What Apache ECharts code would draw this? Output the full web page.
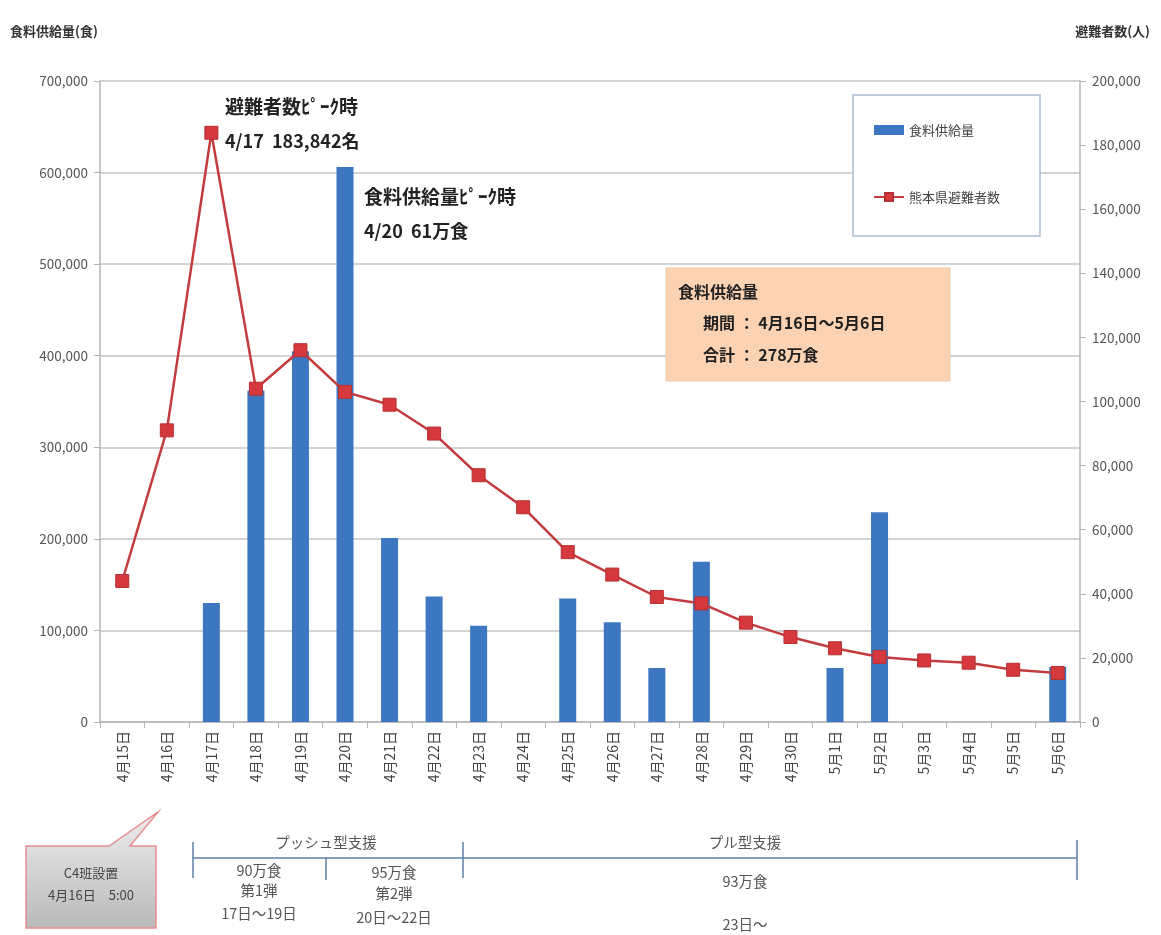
<!DOCTYPE html>
<html><head><meta charset="utf-8">
<script src="https://cdn.jsdelivr.net/npm/echarts@6/dist/echarts.min.js"></script>
<style>html,body{margin:0;padding:0;background:#fff}#c{width:1161px;height:935px}</style>
</head><body><div id="c"></div>
<script>
const categories = ['4月15日','4月16日','4月17日','4月18日','4月19日','4月20日','4月21日','4月22日','4月23日','4月24日','4月25日','4月26日','4月27日','4月28日','4月29日','4月30日','5月1日','5月2日','5月3日','5月4日','5月5日','5月6日'];
const foodSupply = [0,0,130000,362000,405000,606000,201000,137000,105000,0,135000,109000,59000,175000,0,0,59000,229000,0,0,0,60000];
const evacuees = [44000,91000,183842,104000,116000,103000,99000,90000,77000,67000,53000,46000,39000,37000,31000,26500,23000,20300,19200,18500,16300,15300];
const leftTickValues = [0,100000,200000,300000,400000,500000,600000,700000];
const rightTickValues = [0,20000,40000,60000,80000,100000,120000,140000,160000,180000,200000];
const seriesNames = ['食料供給量','熊本県避難者数'];

const FONT = '"Noto Sans CJK JP", "Noto Sans", sans-serif';
const fmt = v => Number(v).toLocaleString('en-US');
const chart = echarts.init(document.getElementById('c'));

function txt(x, y, text, opt) {
  opt = opt || {};
  return {type:'text', z: 100, style:{x, y, text, fill: opt.fill || '#222', fontSize: opt.size || 13,
    fontWeight: opt.weight || 'normal', fontFamily: FONT, textAlign: opt.align || 'left', textVerticalAlign:'middle'}};
}

chart.setOption({
  animation: false,
  backgroundColor: '#fff',
  textStyle: {fontFamily: FONT},
  grid: {left: 100, right: 81, top: 81, bottom: 213, containLabel: false},
  legend: {
    orient: 'vertical', left: 853, top: 95,
    padding: [27, 40, 31, 20], itemGap: 51,
    itemWidth: 30, itemHeight: 10,
    backgroundColor: '#fff', borderColor: '#a9bccf', borderWidth: 1.5,
    textStyle: {fontSize: 13, color: '#444', lineHeight: 16, fontFamily: FONT},
    data: [{name: seriesNames[0], icon: 'rect'}, {name: seriesNames[1]}]
  },
  xAxis: {
    type: 'category', data: categories, boundaryGap: true,
    axisLine: {lineStyle: {color: '#b5b5b5', width: 1.5}},
    axisTick: {show: true, alignWithLabel: false, length: 6, lineStyle: {color: '#b5b5b5'}},
    axisLabel: {rotate: 90, fontSize: 14, color: '#444', margin: 9, fontFamily: FONT}
  },
  yAxis: [{
    type: 'value', min: leftTickValues[0], max: leftTickValues[leftTickValues.length-1], interval: 100000,
    position: 'left',
    axisLine: {show: true, lineStyle: {color: '#b5b5b5', width: 1.5}},
    axisTick: {show: true, length: 6, lineStyle: {color: '#b5b5b5'}},
    axisLabel: {formatter: fmt, fontSize: 13.5, color: '#555', margin: 12, fontFamily: FONT},
    splitLine: {show: true, lineStyle: {color: '#c4c4c4', width: 1.5}}
  }, {
    type: 'value', min: rightTickValues[0], max: rightTickValues[rightTickValues.length-1], interval: 20000,
    position: 'right',
    axisLine: {show: true, lineStyle: {color: '#b5b5b5', width: 1.5}},
    axisTick: {show: true, length: 6, lineStyle: {color: '#b5b5b5'}},
    axisLabel: {formatter: fmt, fontSize: 13.5, color: '#555', margin: 12, fontFamily: FONT},
    splitLine: {show: false}
  }],
  series: [{
    name: seriesNames[0], type: 'bar', data: foodSupply, barWidth: 17, yAxisIndex: 0,
    itemStyle: {color: '#3d77c1'}, z: 2
  }, {
    name: seriesNames[1], type: 'line', data: evacuees, yAxisIndex: 1,
    symbol: 'rect', symbolSize: 13,
    lineStyle: {color: '#c43b3e', width: 2.5},
    itemStyle: {color: '#d5383d', borderColor: '#b53033', borderWidth: 1},
    z: 5
  }],
  graphic: [
    txt(10, 31, '食料供給量(食)', {weight:'bold', size: 13, fill:'#333'}),
    txt(1150, 31, '避難者数(人)', {weight:'bold', size: 13, fill:'#333', align:'right'}),
    txt(225, 107, '避難者数ﾋﾟｰｸ時', {weight:'bold', size: 19}),
    txt(225, 141, '4/17  183,842名', {weight:'bold', size: 18}),
    txt(364, 197, '食料供給量ﾋﾟｰｸ時', {weight:'bold', size: 19}),
    txt(364, 231, '4/20  61万食', {weight:'bold', size: 18}),
    {type:'rect', z: 90, shape:{x:666, y:268, width:284, height:113}, style:{fill:'#fbd3b3', stroke:'#f3c8a6', lineWidth:1}},
    txt(678, 292, '食料供給量', {weight:'bold', size: 16}),
    txt(703, 323, '期間 ： 4月16日～5月6日', {weight:'bold', size: 16}),
    txt(703, 355, '合計 ： 278万食', {weight:'bold', size: 16}),
    // callout
    {type:'polygon', z: 90, shape:{points:[[26,846],[109,846],[158,812],[130,846],[156,846],[156,928],[26,928]]},
      style:{fill:{type:'linear', x:0, y:0, x2:0, y2:1, colorStops:[{offset:0,color:'#eeeeee'},{offset:1,color:'#b9b9b9'}]}, stroke:'#e58e90', lineWidth:1.5}},
    txt(91, 873, 'C4班設置', {size: 13, fill:'#444', align:'center'}),
    txt(91, 895, '4月16日　5:00', {size: 13, fill:'#444', align:'center'}),
    // timeline
    {type:'line', z: 90, shape:{x1:193, y1:858, x2:1077, y2:858}, style:{stroke:'#5b80a8', lineWidth:1.5}},
    {type:'line', z: 90, shape:{x1:193, y1:842, x2:193, y2:878}, style:{stroke:'#5b80a8', lineWidth:1.5}},
    {type:'line', z: 90, shape:{x1:326, y1:858, x2:326, y2:880}, style:{stroke:'#5b80a8', lineWidth:1.5}},
    {type:'line', z: 90, shape:{x1:463, y1:842, x2:463, y2:878}, style:{stroke:'#5b80a8', lineWidth:1.5}},
    {type:'line', z: 90, shape:{x1:1077, y1:840, x2:1077, y2:880}, style:{stroke:'#5b80a8', lineWidth:1.5}},
    txt(326, 842, 'プッシュ型支援', {size: 14.5, fill:'#555', align:'center'}),
    txt(745, 842, 'プル型支援', {size: 14.5, fill:'#555', align:'center'}),
    txt(259, 870, '90万食', {size: 14.5, fill:'#555', align:'center'}),
    txt(259, 890, '第1弾', {size: 14.5, fill:'#555', align:'center'}),
    txt(259, 913, '17日～19日', {size: 14.5, fill:'#555', align:'center'}),
    txt(394, 872, '95万食', {size: 14.5, fill:'#555', align:'center'}),
    txt(394, 893, '第2弾', {size: 14.5, fill:'#555', align:'center'}),
    txt(394, 917, '20日～22日', {size: 14.5, fill:'#555', align:'center'}),
    txt(745, 881, '93万食', {size: 14.5, fill:'#555', align:'center'}),
    txt(745, 924, '23日～', {size: 14.5, fill:'#555', align:'center'})
  ]
});
</script></body></html>
